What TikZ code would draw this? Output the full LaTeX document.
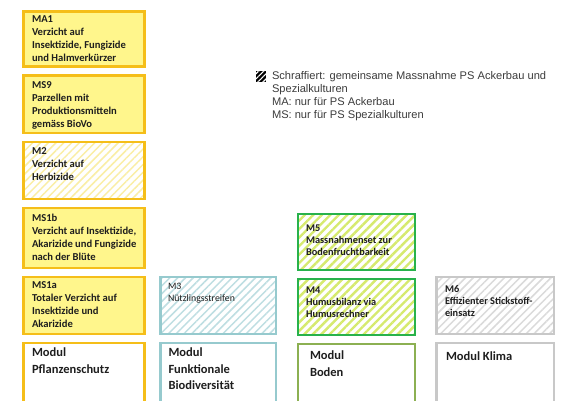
\documentclass[tikz,border=0pt]{standalone}
\usepackage{fontspec}
\setsansfont{Carlito}
\newfontfamily\legendfont{Liberation Sans}
\usetikzlibrary{positioning,patterns.meta}

\definecolor{psrand}{RGB}{245,190,25}
\definecolor{psgelb}{RGB}{255,246,140}
\definecolor{pshell}{RGB}{250,238,165}
\definecolor{fbrand}{RGB}{150,202,206}
\definecolor{fbhell}{RGB}{190,222,226}
\definecolor{borand}{RGB}{40,178,75}
\definecolor{bohell}{RGB}{214,234,110}
\definecolor{bomodul}{RGB}{140,176,82}
\definecolor{klrand}{RGB}{200,200,200}
\definecolor{klhell}{RGB}{218,218,218}
\definecolor{textgrau}{RGB}{30,30,30}
\definecolor{leggrau}{RGB}{60,60,60}

\begin{document}
\begin{tikzpicture}[
		x=1pt, y=1pt,
		every node/.style={inner sep=0pt, outer sep=0pt},
		node distance=9pt,
		box/.style={draw, line width=2.6pt, minimum width=121pt, minimum height=57pt, anchor=north west},
		voll/.style={box, draw=psrand, fill=psgelb},
		schraff/.style={box, pattern={Lines[angle=45,distance=5.5pt,line width=1.5pt]}},
		modul/.style={box, fill=white, minimum height=70pt},
		txt/.style={anchor=north west, align=left, text=textgrau,
			font=\sffamily\bfseries\fontsize{10.6}{13}\selectfont},
		kltxt/.style={txt, font=\sffamily\bfseries\fontsize{10.3}{12}\selectfont},
		modtxt/.style={txt, font=\sffamily\bfseries\fontsize{12.5}{16.5}\selectfont}
		]
		\useasboundingbox (0,0) rectangle (567,-401);
		\clip (0,0) rectangle (567,-401);
		\fill[white] (0,0) rectangle (567,-401);
		
		% Modul Pflanzenschutz
		\node[voll, minimum height=55pt] (ma1) at (23.5,-11.5) {};
		\node[voll, minimum height=57.5pt, below=of ma1] (ms9) {};
		\node[schraff, draw=psrand, pattern color=pshell, below=of ms9] (m2) {};
		\node[voll, minimum height=60pt, below=of m2] (ms1b) {};
		\node[voll, below=of ms1b] (ms1a) {};
		\node[modul, draw=psrand, below=of ms1a] (modps) {};
		
		\node[txt] (ma1t) at ([shift={(8.5pt,-4pt)}]ma1.north west)
			{MA1\\Verzicht auf\\Insektizide, Fungizide\\und Halmverkürzer};
		\node[txt] (ms9t) at ([shift={(8.5pt,-6pt)}]ms9.north west)
			{MS9\\Parzellen mit\\Produktionsmitteln\\gemäss BioVo};
		\node[txt] (m2t) at ([shift={(8.5pt,-6pt)}]m2.north west)
			{M2\\Verzicht auf\\Herbizide};
		\node[txt] (ms1bt) at ([shift={(8.5pt,-6pt)}]ms1b.north west)
			{MS1b\\Verzicht auf Insektizide,\\Akarizide und Fungizide\\nach der Blüte};
		\node[txt] (ms1at) at ([shift={(8.5pt,-5pt)}]ms1a.north west)
			{MS1a\\Totaler Verzicht auf\\Insektizide und\\Akarizide};
		\node[modtxt] (modpst) at ([shift={(8.5pt,-5pt)}]modps.north west)
			{Modul\\Pflanzenschutz};
		
		% Modul Funktionale Biodiversitaet
		\node[schraff, draw=fbrand, pattern color=fbhell, minimum width=115.5pt] (m3) at (160.5,-277) {};
		\node[modul, draw=fbrand, minimum width=115.5pt, below=of m3] (modfb) {};
		
		\node[txt, font=\sffamily\fontsize{9.8}{12}\selectfont] (m3t) at ([shift={(7.5pt,-6pt)}]m3.north west)
			{M3\\Nützlingsstreifen};
		\node[modtxt] (modfbt) at ([shift={(8pt,-5pt)}]modfb.north west)
			{Modul\\Funktionale\\Biodiversität};
		
		% Modul Boden
		\node[schraff, draw=borand, pattern={Lines[angle=45,distance=6pt,line width=2.4pt]},
			pattern color=bohell, minimum width=117pt, minimum height=56pt] (m4) at (298,-279) {};
		\node[schraff, draw=borand, pattern={Lines[angle=45,distance=6pt,line width=2.4pt]},
			pattern color=bohell, minimum width=117pt, minimum height=56pt, above=of m4] (m5) {};
		\node[modul, draw=bomodul, minimum width=117pt, below=of m4] (modbo) {};
		
		\node[kltxt] (m5t) at ([shift={(8pt,-11pt)}]m5.north west)
			{M5\\Massnahmenset zur\\Bodenfruchtbarkeit};
		\node[kltxt] (m4t) at ([shift={(8pt,-8pt)}]m4.north west)
			{M4\\Humusbilanz via\\Humusrechner};
		\node[modtxt] (modbot) at ([shift={(12pt,-7pt)}]modbo.north west)
			{Modul\\Boden};
		
		% Modul Klima
		\node[schraff, draw=klrand, pattern color=klhell, minimum width=117.5pt] (m6) at (436.5,-277) {};
		\node[modul, draw=klrand, minimum width=117.5pt, below=of m6] (modkl) {};
		
		\node[kltxt] (m6t) at ([shift={(8.5pt,-8pt)}]m6.north west)
			{M6\\Effizienter Stickstoff-\\einsatz};
		\node[modtxt] (modklt) at ([shift={(9.5pt,-9pt)}]modkl.north west)
			{Modul Klima};
		
		% Legende
		\node[anchor=north west, align=left, text=leggrau,
			font=\legendfont\fontsize{11.1}{13}\selectfont] (leg) at (272,-71)
			{Schraffiert: gemeinsame Massnahme PS Ackerbau und\\Spezialkulturen\\MA: nur für PS Ackerbau\\MS: nur für PS Spezialkulturen};
		\node[fill=black, minimum size=10.5pt, anchor=north east,
			postaction={pattern={Lines[angle=45,distance=3.6pt,line width=1.1pt]}, pattern color=white}]
			(sym) at ([shift={(-6pt,-0.5pt)}]leg.north west) {};
	\end{tikzpicture}
\end{document}
